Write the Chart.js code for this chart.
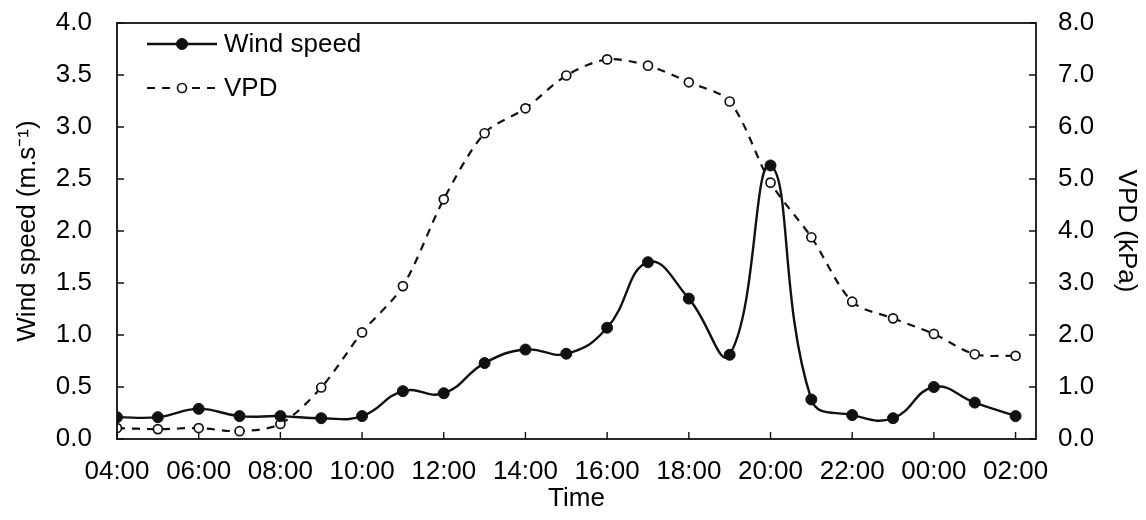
<!DOCTYPE html>
<html>
<head>
<meta charset="utf-8">
<script src="https://cdn.jsdelivr.net/npm/chart.js@4/dist/chart.umd.min.js"></script>
<style>
  html, body { margin: 0; padding: 0; background: #fff; }
  #wrap { width: 1146px; height: 520px; position: relative; }
</style>
</head>
<body>
<div id="wrap"><canvas id="chart"></canvas></div>
<script>
// ── Data (hourly, 04:00 -> 02:00 next day) ──
const hours = ['04:00','05:00','06:00','07:00','08:00','09:00','10:00','11:00','12:00','13:00','14:00','15:00',
               '16:00','17:00','18:00','19:00','20:00','21:00','22:00','23:00','00:00','01:00','02:00'];
const windSpeed = [0.21, 0.21, 0.29, 0.22, 0.22, 0.20, 0.22, 0.46, 0.44, 0.73, 0.86, 0.82,
                   1.07, 1.70, 1.35, 0.81, 2.63, 0.38, 0.23, 0.20, 0.50, 0.35, 0.22];
const vpd = [0.21, 0.19, 0.21, 0.15, 0.29, 0.99, 2.05, 2.94, 4.61, 5.88, 6.36, 6.99,
             7.30, 7.18, 6.86, 6.49, 4.93, 3.88, 2.64, 2.32, 2.02, 1.63, 1.60];
const xTickIdx = [0, 2, 4, 6, 8, 10, 12, 14, 16, 18, 20, 22];
const windTicks = [0, 0.5, 1, 1.5, 2, 2.5, 3, 3.5, 4];
const vpdTicks = [0, 1, 2, 3, 4, 5, 6, 7, 8];

const INK = '#111';
const FONT = "'Liberation Sans', Arial, sans-serif";
const FSIZE = 26;

// ── Frame + inner tick marks + legend ──
const framePlugin = {
    id: 'frame',
    afterDraw(chart) {
        const { ctx, chartArea: a, scales } = chart;
        ctx.save();
        ctx.strokeStyle = INK;
        ctx.lineWidth = 1.8;
        ctx.strokeRect(a.left, a.top, a.right - a.left, a.bottom - a.top);
        ctx.lineWidth = 1.4;
        ctx.beginPath();
        xTickIdx.forEach(i => { const x = scales.x.getPixelForValue(i); ctx.moveTo(x, a.bottom); ctx.lineTo(x, a.bottom - 7); });
        windTicks.forEach(v => { const y = scales.y.getPixelForValue(v); ctx.moveTo(a.left, y); ctx.lineTo(a.left + 7, y); });
        vpdTicks.forEach(v => { const y = scales.y2.getPixelForValue(v); ctx.moveTo(a.right, y); ctx.lineTo(a.right - 7, y); });
        ctx.stroke();

        // legend
        const rows = [{ ds: chart.data.datasets[0], y: 44 }, { ds: chart.data.datasets[1], y: 88 }];
        rows.forEach(r => {
            ctx.strokeStyle = INK;
            ctx.lineWidth = r.ds.borderWidth;
            ctx.setLineDash(r.ds.borderDash || []);
            ctx.beginPath(); ctx.moveTo(147, r.y); ctx.lineTo(217, r.y); ctx.stroke();
            ctx.setLineDash([]);
            ctx.beginPath(); ctx.arc(182, r.y, r.ds.pointRadius, 0, Math.PI * 2);
            ctx.fillStyle = r.ds.pointBackgroundColor; ctx.fill();
            ctx.lineWidth = r.ds.pointBorderWidth; ctx.strokeStyle = INK; ctx.stroke();
            ctx.fillStyle = '#000';
            ctx.font = `${FSIZE}px ${FONT}`;
            ctx.textBaseline = 'middle';
            ctx.fillText(r.ds.label, 224, r.y + 1);
        });
        ctx.restore();
    }
};

// y axes: fixed width, no extra top/bottom padding from tick labels
const fitY = w => s => { s.width = w; s.paddingTop = 0; s.paddingBottom = 0; };

new Chart(document.getElementById('chart'), {
    type: 'line',
    data: {
        datasets: [
            {
                label: 'Wind speed',
                data: windSpeed.map((v, i) => ({ x: i, y: v })),
                yAxisID: 'y',
                borderColor: INK, borderWidth: 2.4,
                pointRadius: 5.5, pointBackgroundColor: INK, pointBorderColor: INK, pointBorderWidth: 1,
                tension: 0.45, fill: false
            },
            {
                label: 'VPD',
                data: vpd.map((v, i) => ({ x: i, y: v })),
                yAxisID: 'y2',
                borderColor: INK, borderWidth: 2.2, borderDash: [8, 7],
                pointRadius: 4.5, pointBackgroundColor: '#fff', pointBorderColor: INK, pointBorderWidth: 1.7,
                tension: 0.3, fill: false
            }
        ]
    },
    options: {
        responsive: true, maintainAspectRatio: false, animation: false,
        layout: { padding: { top: 23, left: 0, right: 0, bottom: 0 } },
        plugins: { legend: { display: false }, tooltip: { enabled: false } },
        scales: {
            x: {
                type: 'linear', min: 0, max: 22.5,
                grid: { display: false, drawTicks: false },
                border: { display: false },
                afterBuildTicks: s => { s.ticks = xTickIdx.map(v => ({ value: v })); },
                afterFit: s => { s.height = 81; },
                ticks: { color: '#000', font: { family: FONT, size: FSIZE }, padding: 17, maxRotation: 0, autoSkip: false,
                         callback: v => hours[v] },
                title: { display: true, text: 'Time', color: '#000', font: { family: FONT, size: FSIZE }, padding: { top: 0, bottom: 6 } }
            },
            y: {
                position: 'left', min: 0, max: 4,
                grid: { display: false, drawTicks: false },
                border: { display: false },
                afterBuildTicks: s => { s.ticks = windTicks.map(v => ({ value: v })); },
                afterFit: fitY(117),
                ticks: { color: '#000', font: { family: FONT, size: FSIZE }, padding: 25, callback: v => v.toFixed(1) },
                title: { display: true, text: 'Wind speed (m.s⁻¹)', color: '#000', font: { family: FONT, size: FSIZE }, padding: { top: 12, bottom: 0 } }
            },
            y2: {
                position: 'right', min: 0, max: 8,
                grid: { display: false, drawTicks: false },
                border: { display: false },
                afterBuildTicks: s => { s.ticks = vpdTicks.map(v => ({ value: v })); },
                afterFit: fitY(110),
                ticks: { color: '#000', font: { family: FONT, size: FSIZE }, padding: 22, callback: v => v.toFixed(1) },
                title: { display: true, text: 'VPD (kPa)', color: '#000', font: { family: FONT, size: FSIZE }, padding: { top: 4, bottom: 0 } }
            }
        }
    },
    plugins: [framePlugin]
});
</script>
</body>
</html>
